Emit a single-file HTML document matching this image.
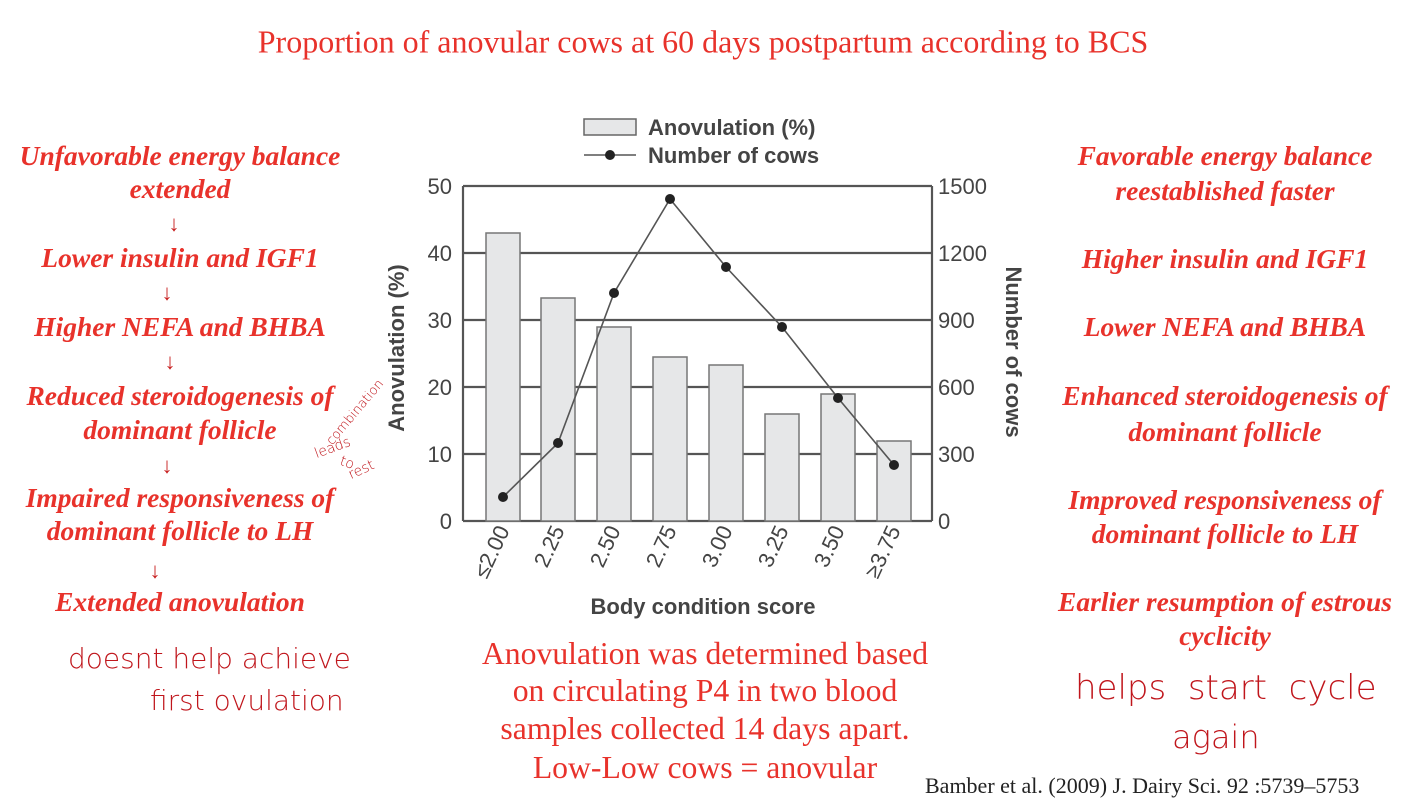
<!DOCTYPE html>
<html><head><meta charset="utf-8"><style>
body{margin:0;width:1410px;height:790px;background:#fff;position:relative;overflow:hidden;font-family:"Liberation Serif",serif;}
.t{position:absolute;white-space:nowrap;transform:translate(-50%,-50%);color:#e8322b;}
.s{font-style:italic;font-weight:bold;font-size:27.5px;}
.c{font-size:31.7px;}
.a{position:absolute;color:#c82020;font-size:22px;transform:translate(-50%,-50%);}
.h{position:absolute;color:#c0161c;font-family:"DejaVu Sans",sans-serif;font-weight:200;white-space:nowrap;}
</style></head><body>
<div class="t c" style="left:703px;top:42px;font-size:32px;">Proportion of anovular cows at 60 days postpartum according to BCS</div>

<div class="t s" style="left:180px;top:156px">Unfavorable energy balance</div>
<div class="t s" style="left:180px;top:189px">extended</div>
<div class="a" style="left:174px;top:224px">↓</div>
<div class="t s" style="left:180px;top:258px">Lower insulin and IGF1</div>
<div class="a" style="left:167px;top:293px">↓</div>
<div class="t s" style="left:180px;top:327px">Higher NEFA and BHBA</div>
<div class="a" style="left:170px;top:362px">↓</div>
<div class="t s" style="left:180px;top:396px">Reduced steroidogenesis of</div>
<div class="t s" style="left:180px;top:430px">dominant follicle</div>
<div class="a" style="left:167px;top:466px">↓</div>
<div class="t s" style="left:180px;top:498px">Impaired responsiveness of</div>
<div class="t s" style="left:180px;top:531px">dominant follicle to LH</div>
<div class="a" style="left:155px;top:571px">↓</div>
<div class="t s" style="left:180px;top:602px">Extended anovulation</div>
<div class="h" style="left:68px;top:642px;font-size:28px;">doesnt help achieve</div>
<div class="h" style="left:150px;top:684px;font-size:28px;">first ovulation</div>
<div class="h" style="left:315px;top:405px;font-size:13px;transform:rotate(-50deg);">combination</div>
<div class="h" style="left:314px;top:440px;font-size:14px;transform:rotate(-20deg);">leads</div>
<div class="h" style="left:340px;top:455px;font-size:14px;transform:rotate(20deg);">to</div>
<div class="h" style="left:348px;top:462px;font-size:14px;transform:rotate(-25deg);">rest</div>

<div class="t s" style="left:1225px;top:156px">Favorable energy balance</div>
<div class="t s" style="left:1225px;top:191px">reestablished faster</div>
<div class="t s" style="left:1225px;top:259px">Higher insulin and IGF1</div>
<div class="t s" style="left:1225px;top:327px">Lower NEFA and BHBA</div>
<div class="t s" style="left:1225px;top:396px">Enhanced steroidogenesis of</div>
<div class="t s" style="left:1225px;top:432px">dominant follicle</div>
<div class="t s" style="left:1225px;top:500px">Improved responsiveness of</div>
<div class="t s" style="left:1225px;top:534px">dominant follicle to LH</div>
<div class="t s" style="left:1225px;top:602px">Earlier resumption of estrous</div>
<div class="t s" style="left:1225px;top:636px">cyclicity</div>
<div class="h" style="left:1075px;top:668px;font-size:34px;">helps&nbsp;&nbsp;start&nbsp;&nbsp;cycle</div>
<div class="h" style="left:1172px;top:718px;font-size:32px;">again</div>

<div class="t c" style="left:705px;top:654px">Anovulation was determined based</div>
<div class="t c" style="left:705px;top:691px">on circulating P4 in two blood</div>
<div class="t c" style="left:705px;top:729px">samples collected 14 days apart.</div>
<div class="t c" style="left:705px;top:768px">Low-Low cows = anovular</div>
<div style="position:absolute;left:925px;top:773px;font-size:22px;color:#222;white-space:nowrap;">Bamber et al. (2009) J. Dairy Sci. 92 :5739–5753</div>

<svg style="position:absolute;left:0;top:0" width="1410" height="790" font-family="Liberation Sans,sans-serif">
<g stroke="#555" stroke-width="2.2">
<line x1="463" y1="186" x2="932" y2="186"/>
<line x1="463" y1="253" x2="932" y2="253"/>
<line x1="463" y1="320" x2="932" y2="320"/>
<line x1="463" y1="387" x2="932" y2="387"/>
<line x1="463" y1="454" x2="932" y2="454"/>
<line x1="463" y1="521" x2="932" y2="521"/>
<line x1="463" y1="186" x2="463" y2="521"/>
<line x1="932" y1="186" x2="932" y2="521"/>
</g>
<g fill="#e6e7e8" stroke="#777" stroke-width="1.5">
<rect x="486" y="233" width="34" height="288"/>
<rect x="541" y="298" width="34" height="223"/>
<rect x="597" y="327" width="34" height="194"/>
<rect x="653" y="357" width="34" height="164"/>
<rect x="709" y="365" width="34" height="156"/>
<rect x="765" y="414" width="34" height="107"/>
<rect x="821" y="394" width="34" height="127"/>
<rect x="877" y="441" width="34" height="80"/>
</g>
<polyline fill="none" stroke="#555" stroke-width="1.6" points="503,497 558,443 614,293 670,199 726,267 782,327 838,398 894,465"/>
<g fill="#222"><circle cx="503" cy="497" r="5"/><circle cx="558" cy="443" r="5"/><circle cx="614" cy="293" r="5"/><circle cx="670" cy="199" r="5"/><circle cx="726" cy="267" r="5"/><circle cx="782" cy="327" r="5"/><circle cx="838" cy="398" r="5"/><circle cx="894" cy="465" r="5"/></g>
<g font-size="22" fill="#444" text-anchor="end">
<text x="452" y="194">50</text><text x="452" y="261">40</text><text x="452" y="328">30</text><text x="452" y="395">20</text><text x="452" y="462">10</text><text x="452" y="529">0</text>
</g>
<g font-size="22" fill="#444">
<text x="938" y="194">1500</text><text x="938" y="261">1200</text><text x="938" y="328">900</text><text x="938" y="395">600</text><text x="938" y="462">300</text><text x="938" y="529">0</text>
</g>
<g font-size="22" fill="#444" text-anchor="end">
<text transform="translate(510,530) rotate(-65)">≤2.00</text>
<text transform="translate(565,530) rotate(-65)">2.25</text>
<text transform="translate(621,530) rotate(-65)">2.50</text>
<text transform="translate(677,530) rotate(-65)">2.75</text>
<text transform="translate(733,530) rotate(-65)">3.00</text>
<text transform="translate(789,530) rotate(-65)">3.25</text>
<text transform="translate(845,530) rotate(-65)">3.50</text>
<text transform="translate(901,530) rotate(-65)">≥3.75</text>
</g>
<text x="703" y="614" font-size="22" fill="#444" text-anchor="middle" font-weight="bold">Body condition score</text>
<text transform="translate(404,348) rotate(-90)" font-size="22" fill="#444" text-anchor="middle" font-weight="bold">Anovulation (%)</text>
<text transform="translate(1006,352) rotate(90)" font-size="22" fill="#444" text-anchor="middle" font-weight="bold">Number of cows</text>
<rect x="584" y="119" width="52" height="16" fill="#e6e7e8" stroke="#666" stroke-width="1.5"/>
<text x="648" y="135" font-size="22" fill="#444" font-weight="bold">Anovulation (%)</text>
<line x1="584" y1="155" x2="636" y2="155" stroke="#555" stroke-width="1.6"/>
<circle cx="610" cy="155" r="5" fill="#222"/>
<text x="648" y="163" font-size="22" fill="#444" font-weight="bold">Number of cows</text>
</svg>
</body></html>
